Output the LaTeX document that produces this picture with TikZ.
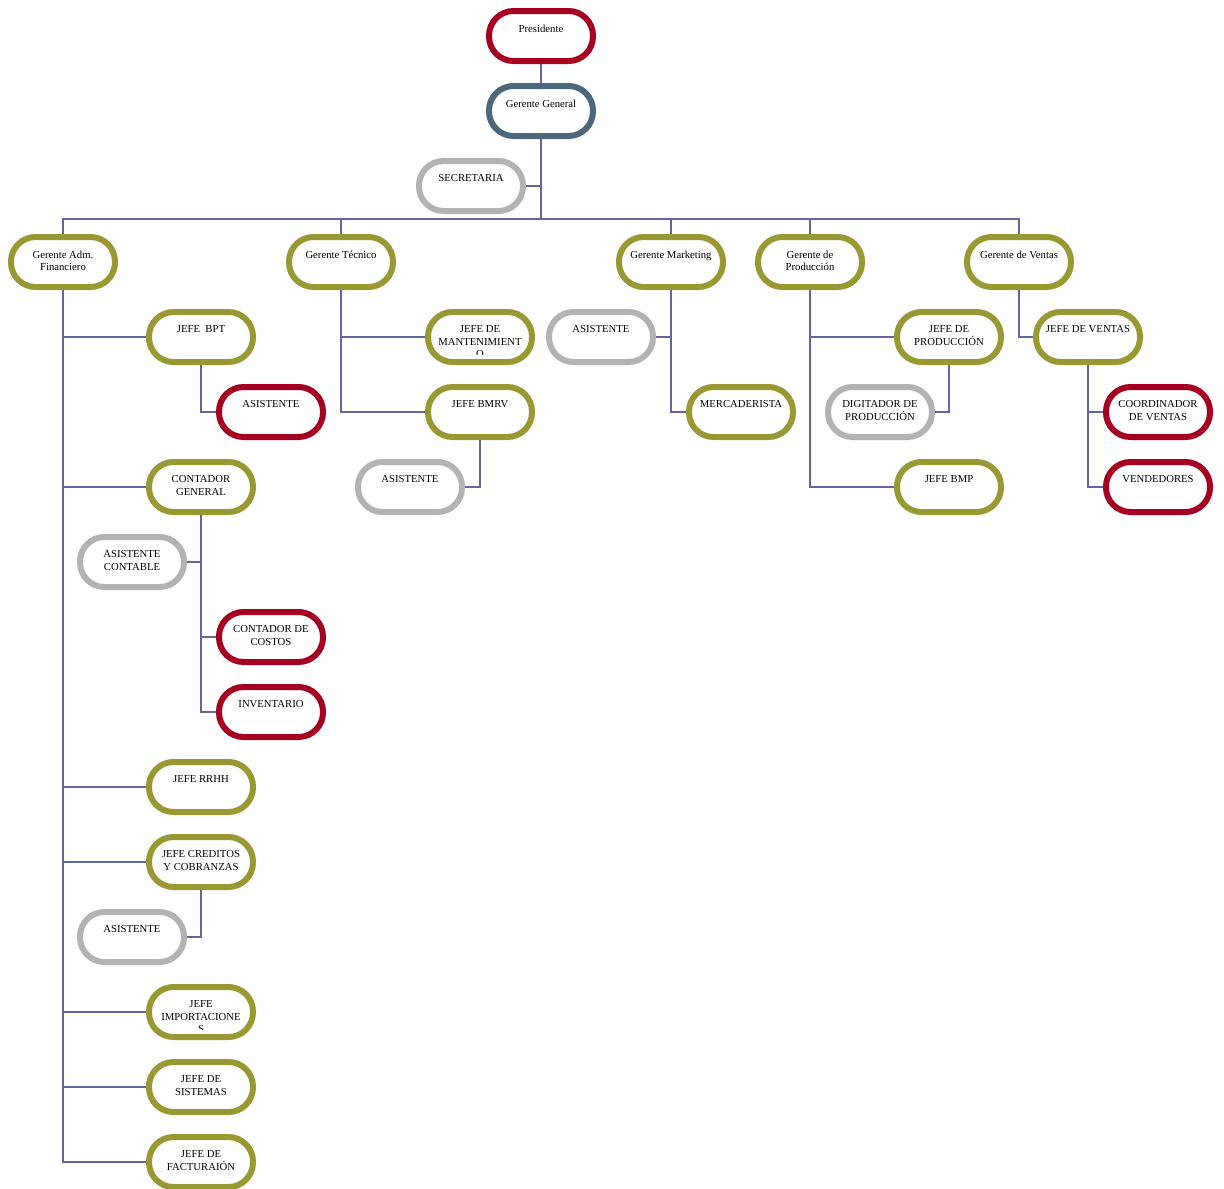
\documentclass[tikz,border=0pt]{standalone}
\usepackage{fontspec}
\setmainfont{Liberation Serif}
\definecolor{olv}{RGB}{153,153,51}
\definecolor{crm}{RGB}{165,0,33}
\definecolor{gry}{RGB}{179,179,179}
\definecolor{slt}{RGB}{76,104,122}
\definecolor{lnk}{RGB}{100,100,160}
\tikzset{
  box/.style={draw, fill=white, line width=6pt, rounded corners=24.5pt, minimum width=104pt, minimum height=50pt, inner sep=0pt},
  obox/.style={box, draw=olv},
  rbox/.style={box, draw=crm},
  gbox/.style={box, draw=gry},
  sbox/.style={box, draw=slt},
  lbl/.style={anchor=north, inner sep=0pt, align=center, font=\fontsize{10.7}{12.5}\selectfont},
  conn/.style={draw=lnk, line width=2pt}
}
\newcommand{\bx}[5]{\node[#4] (#1) at (#2,#3) {}; \node[lbl] at ([yshift=-16.5pt]#1.north) {#5};}
\newcommand{\bxclip}[5]{\node[#4] (#1) at (#2,#3) {};
  \begin{scope}\clip ([xshift=-50pt,yshift=-5pt]#1.north) rectangle ([xshift=50pt,yshift=-45pt]#1.north);
  \node[lbl] at ([yshift=-16.5pt]#1.north) {#5};\end{scope}}
\begin{document}
\begin{tikzpicture}[x=1pt,y=-1pt]
\useasboundingbox (0,0) rectangle (1224,1189);
\fill[white] (0,0) rectangle (1224,1189);
\coordinate (bus) at (541,219);
% nodes
\bx{pres}{541}{36}{rbox}{Presidente}
\bx{gg}{541}{111}{sbox}{Gerente General}
\bx{sec}{471}{186}{gbox}{SECRETARIA}
\bx{gaf}{63}{262}{obox}{Gerente Adm.\\Financiero}
\bx{gt}{341}{262}{obox}{Gerente Técnico}
\bx{gm}{671}{262}{obox}{Gerente Marketing}
\bx{gp}{810}{262}{obox}{Gerente de\\Producción}
\bx{gv}{1019}{262}{obox}{Gerente de Ventas}
\bx{bpt}{201}{337}{obox}{JEFE\ \ BPT}
\bx{asisA}{271}{412}{rbox}{ASISTENTE}
\bx{cg}{201}{487}{obox}{CONTADOR\\GENERAL}
\bx{ascont}{132}{562}{gbox}{ASISTENTE\\CONTABLE}
\bx{ccost}{271}{637}{rbox}{CONTADOR DE\\COSTOS}
\bx{inv}{271}{712}{rbox}{INVENTARIO}
\bx{rrhh}{201}{787}{obox}{JEFE RRHH}
\bx{jcc}{201}{862}{obox}{JEFE CREDITOS\\Y COBRANZAS}
\bx{asisB}{132}{937}{gbox}{ASISTENTE}
\bxclip{imp}{201}{1012}{obox}{JEFE\\IMPORTACIONE\\S}
\bx{sis}{201}{1087}{obox}{JEFE DE\\SISTEMAS}
\bx{fac}{201}{1162}{obox}{JEFE DE\\FACTURAIÓN}
\bxclip{mant}{480}{337}{obox}{JEFE DE\\MANTENIMIENT\\O}
\bx{bmrv}{480}{412}{obox}{JEFE BMRV}
\bx{asisC}{410}{487}{gbox}{ASISTENTE}
\bx{asisD}{601}{337}{gbox}{ASISTENTE}
\bx{merc}{741}{412}{obox}{MERCADERISTA}
\bx{jprod}{949}{337}{obox}{JEFE DE\\PRODUCCIÓN}
\bx{dig}{880}{412}{gbox}{DIGITADOR DE\\PRODUCCIÓN}
\bx{bmp}{949}{487}{obox}{JEFE BMP}
\bx{jv}{1088}{337}{obox}{JEFE DE VENTAS}
\bx{coord}{1158}{412}{rbox}{COORDINADOR\\DE VENTAS}
\bx{vend}{1158}{487}{rbox}{VENDEDORES}
% connectors
\draw[conn] (pres.south) -- (gg.north);
\draw[conn] (gg.south) -- (bus);
\draw[conn] (sec.east) -- (sec.east -| gg.south);
\draw[conn] (gaf.north) -- (gaf.north |- bus) -- (gv.north |- bus) -- (gv.north);
\draw[conn] (gt.north) -- (gt.north |- bus);
\draw[conn] (gm.north) -- (gm.north |- bus);
\draw[conn] (gp.north) -- (gp.north |- bus);
% Adm Financiero
\draw[conn] (gaf.south) |- (fac.west);
\foreach \n in {bpt,cg,rrhh,jcc,imp,sis} \draw[conn] (gaf.south |- \n.west) -- (\n.west);
\draw[conn] (bpt.south) |- (asisA.west);
\draw[conn] (cg.south) |- (inv.west);
\draw[conn] (cg.south |- ccost.west) -- (ccost.west);
\draw[conn] (ascont.east) -- (ascont.east -| cg.south);
\draw[conn] (jcc.south) |- (asisB.east);
% Tecnico
\draw[conn] (gt.south) |- (bmrv.west);
\draw[conn] (gt.south |- mant.west) -- (mant.west);
\draw[conn] (bmrv.south) |- (asisC.east);
% Marketing
\draw[conn] (gm.south) |- (merc.west);
\draw[conn] (asisD.east) -- (asisD.east -| gm.south);
% Produccion
\draw[conn] (gp.south) |- (bmp.west);
\draw[conn] (gp.south |- jprod.west) -- (jprod.west);
\draw[conn] (jprod.south) |- (dig.east);
% Ventas
\draw[conn] (gv.south) |- (jv.west);
\draw[conn] (jv.south) |- (vend.west);
\draw[conn] (jv.south |- coord.west) -- (coord.west);
\end{tikzpicture}
\end{document}
